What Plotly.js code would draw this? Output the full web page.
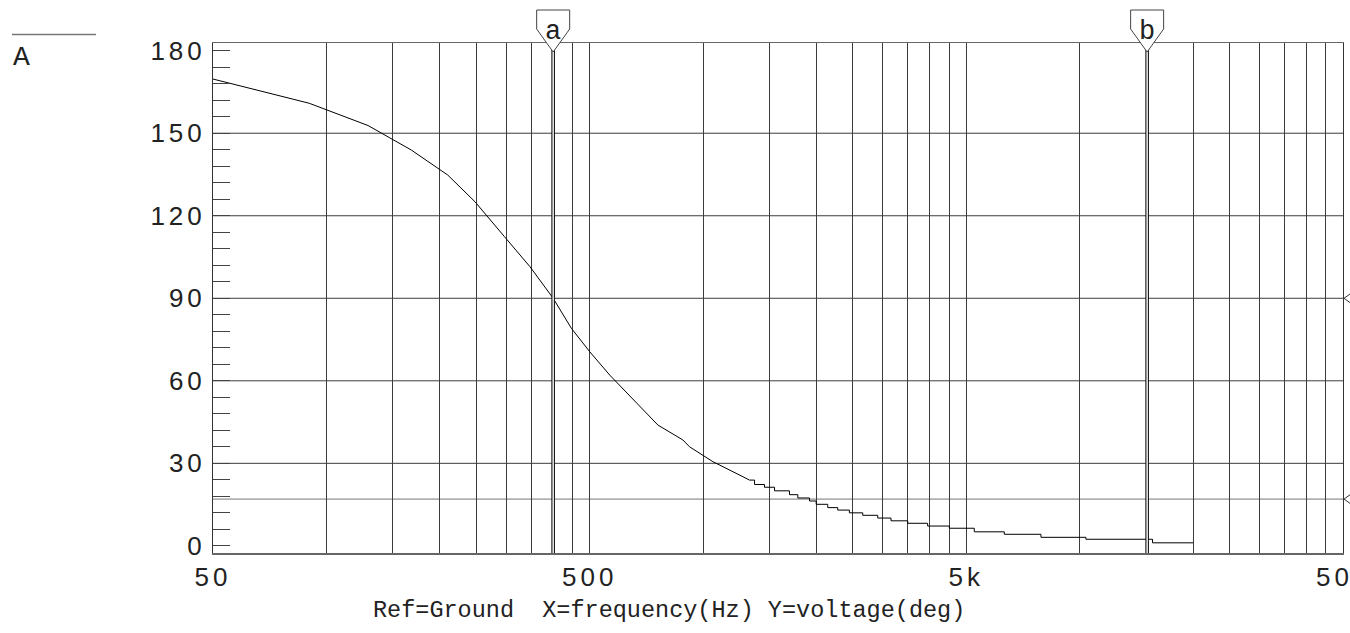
<!DOCTYPE html>
<html>
<head>
<meta charset="utf-8">
<script src="https://cdn.plot.ly/plotly-3.0.1.min.js"></script>
<style>
  html, body { margin: 0; padding: 0; background: #fff; }
  #chart { width: 1350px; height: 633px; }
  .xtick text, .ytick text { letter-spacing: 4px; }
</style>
</head>
<body>
<div id="chart"></div>
<script>
// ---- data ----
const freqSmooth  = [50, 90, 129, 168, 210, 248, 297, 347, 400, 447, 500, 565, 759, 884, 921, 1000, 1062, 1329];
const phaseSmooth = [169.7, 160.9, 152.8, 143.9, 134.8, 125.1, 112.4, 101.5, 90.0, 79.1, 70.6, 62.1, 43.9, 38.5, 36.0, 33.0, 30.6, 23.9];

const freqStep  = [1329, 1370, 1456, 1548, 1696, 1785, 1917, 1997, 2143, 2278, 2446, 2654, 2909, 3155, 3494, 3947, 4507, 5250, 6306, 7890, 10385, 15605, 20000];
const phaseStep = [23.9, 22.3, 21.3, 20.0, 18.6, 17.4, 16.3, 15.1, 13.9, 13.0, 12.0, 11.1, 10.1, 9.1, 8.2, 7.2, 6.4, 5.1, 4.2, 3.1, 2.4, 1.1, 1.1];

// axis ticks / grid
const gridFreqs = [50, 100, 150, 200, 250, 300, 350, 400, 450, 500,
                   1000, 1500, 2000, 2500, 3000, 3500, 4000, 4500, 5000,
                   10000, 15000, 20000, 25000, 30000, 35000, 40000, 45000, 50000];
const xLabelVals = [50, 500, 5000, 50000];
const xLabelText = ["50", "500", "5k", "50k"];
const yTickVals = [0, 30, 60, 90, 120, 150, 180];
const yTickText = ["0", "30", "60", "90", "120", "150", "180"];
const yGridVals = [30, 60, 90, 120, 150];

// cursors
const cursorFreq = [400, 15100];
const cursorName = ["a", "b"];
const cursorLevels = [90, 17];

const titleText = "Ref=Ground\u00A0 X=frequency(Hz) Y=voltage(deg)";
const traceLabel = "A";

// ---- build ----
const xTickText = gridFreqs.map(f => {
  const i = xLabelVals.indexOf(f);
  return i >= 0 ? xLabelText[i] : "";
});

const traces = [
  { x: freqSmooth, y: phaseSmooth, type: "scatter", mode: "lines",
    line: { color: "#000", width: 1 }, hoverinfo: "skip" },
  { x: freqStep, y: phaseStep, type: "scatter", mode: "lines",
    line: { color: "#000", width: 1, shape: "hv" }, hoverinfo: "skip" }
];

const shapes = [];
yGridVals.forEach(v => shapes.push({
  type: "line", xref: "paper", yref: "y", x0: 0, x1: 1, y0: v, y1: v,
  layer: "below", line: { color: "#3c3c3c", width: 1 }
}));
// horizontal cursor level line
shapes.push({ type: "line", xref: "paper", yref: "y", x0: 0, x1: 1,
  y0: cursorLevels[1], y1: cursorLevels[1], layer: "below",
  line: { color: "#777", width: 1 } });
cursorLevels.forEach(v => shapes.push({
  type: "path", xref: "paper", xsizemode: "pixel", xanchor: 1,
  yref: "y", ysizemode: "pixel", yanchor: v,
  path: "M8,5L1,0L8,-5", line: { color: "#333", width: 1 }
}));
// vertical cursor lines (double line) and pentagon markers
cursorFreq.forEach(f => {
  shapes.push({ type: "line", xref: "x", yref: "paper", x0: f, x1: f, y0: 0, y1: 1,
    line: { color: "#111", width: 3.6 } });
  shapes.push({ type: "line", xref: "x", yref: "paper", x0: f, x1: f, y0: 0, y1: 1,
    line: { color: "#fff", width: 1.4 } });
  shapes.push({ type: "path", xref: "x", xsizemode: "pixel", xanchor: f,
    yref: "paper", ysizemode: "pixel", yanchor: 1,
    path: "M-16.5,33L16.5,33L16.5,14L0,-9L-16.5,14Z",
    fillcolor: "#fff", line: { color: "#444", width: 1 } });
});
// trace label line top-left
shapes.push({ type: "line", xref: "paper", yref: "paper",
  x0: (12 - 213) / 1130, x1: (96 - 213) / 1130, y0: 1 + 8.5 / 510, y1: 1 + 8.5 / 510,
  line: { color: "#777", width: 1.5 } });

const annotations = cursorFreq.map((f, i) => ({
  xref: "x", yref: "paper", x: Math.log10(f), y: 1, yshift: 11,
  xanchor: "center", yanchor: "middle", showarrow: false, text: cursorName[i],
  font: { family: "Liberation Mono, monospace", size: 27, color: "#222" }
}));
annotations.push({
  xref: "paper", yref: "paper", x: (668.5 - 213) / 1130, y: 0, yshift: -57,
  xanchor: "center", yanchor: "middle", showarrow: false, text: titleText,
  font: { family: "Liberation Mono, monospace", size: 23.5, color: "#222" }
});
annotations.push({
  xref: "paper", yref: "paper", x: (11 - 213) / 1130, y: 1 - 14 / 510,
  xanchor: "left", yanchor: "middle", showarrow: false, text: traceLabel,
  font: { family: "Liberation Mono, monospace", size: 28, color: "#222" }
});

const tickFont = { family: "Liberation Sans, Arial, sans-serif", size: 26, color: "#222" };

const layout = {
  width: 1350, height: 633,
  margin: { l: 213, r: 7, t: 43, b: 80, pad: 0 },
  paper_bgcolor: "#fff", plot_bgcolor: "#fff",
  showlegend: false,
  xaxis: {
    type: "log", range: [Math.log10(50), Math.log10(50000)],
    tickmode: "array", tickvals: gridFreqs, ticktext: xTickText,
    showgrid: true, gridcolor: "#3c3c3c", gridwidth: 1,
    ticks: "", showline: true, mirror: true, linecolor: "#666", linewidth: 1.5,
    zeroline: false, tickfont: tickFont, ticklabelstandoff: 0,
    ticklabeloverflow: "allow", automargin: false, fixedrange: true
  },
  yaxis: {
    range: [-2.6, 182.8],
    tickmode: "array", tickvals: yTickVals, ticktext: yTickText,
    showgrid: false, ticks: "",
    minor: { tickmode: "linear", tick0: 0, dtick: 6, ticks: "inside", ticklen: 17,
             tickcolor: "#444", tickwidth: 1, showgrid: false },
    showline: true, mirror: true, linecolor: "#333", linewidth: 1,
    zeroline: false, tickfont: tickFont, ticklabelstandoff: 1,
    ticklabeloverflow: "allow", automargin: false, fixedrange: true
  },
  shapes: shapes,
  annotations: annotations
};

Plotly.newPlot("chart", traces, layout, { displayModeBar: false, staticPlot: true });
</script>
</body>
</html>
